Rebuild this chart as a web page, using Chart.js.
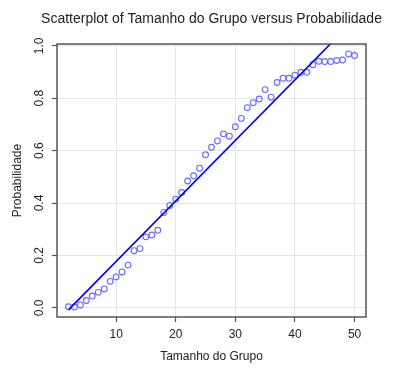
<!DOCTYPE html>
<html>
<head>
<meta charset="utf-8">
<script src="https://cdn.jsdelivr.net/npm/chart.js@4"></script>
<style>
html,body{margin:0;padding:0;background:#fff;}
#wrap{width:399px;height:375px;}
</style>
</head>
<body>
<div id="wrap"><canvas id="c" width="399" height="375"></canvas></div>
<script>
// ---- data ----
const groupSize = [2,3,4,5,6,7,8,9,10,11,12,13,14,15,16,17,18,19,20,21,22,23,24,25,26,27,28,29,30,31,32,33,34,35,36,37,38,39,40,41,42,43,44,45,46,47,48,49,50];
const probability = [0.004,0.003,0.011,0.028,0.045,0.059,0.072,0.101,0.118,0.137,0.163,0.218,0.226,0.271,0.278,0.296,0.364,0.391,0.415,0.440,0.484,0.504,0.533,0.584,0.613,0.637,0.664,0.655,0.691,0.723,0.764,0.783,0.797,0.833,0.804,0.860,0.876,0.876,0.888,0.899,0.899,0.928,0.941,0.940,0.940,0.944,0.946,0.969,0.963];
const fitLineX = [2, 50];
const fitLineY = [-0.008, 1.101];
const xTickValues = [10,20,30,40,50];
const yTickValues = [0,0.2,0.4,0.6,0.8,1.0];
const yTickLabels = ['0.0','0.2','0.4','0.6','0.8','1.0'];
const titleText = 'Scatterplot of Tamanho do Grupo versus Probabilidade';
const xTitleText = 'Tamanho do Grupo';
const yTitleText = 'Probabilidade';

const FONT = '"Liberation Sans", Arial, sans-serif';
const TEXT = '#222';

const points = groupSize.map((g,i)=>({x:g,y:probability[i]}));
const linePts = fitLineX.map((x,i)=>({x:x,y:fitLineY[i]}));

const textPlugin = {
  id:'textPlugin',
  afterDatasetsDraw(chart){
    const ctx = chart.ctx, a = chart.chartArea;
    const xs = chart.scales.x, ys = chart.scales.y;
    ctx.save();
    // box
    ctx.strokeStyle = '#555';
    ctx.lineWidth = 1.5;
    ctx.strokeRect(a.left, a.top, a.right-a.left, a.bottom-a.top);
    ctx.fillStyle = TEXT;
    // title
    ctx.font = '14px ' + FONT;
    ctx.textAlign = 'center';
    ctx.textBaseline = 'middle';
    ctx.fillText(titleText, (a.left+a.right)/2, 19);
    // x tick labels
    ctx.font = '12px ' + FONT;
    xTickValues.forEach(v=>{
      ctx.fillText(String(v), xs.getPixelForValue(v), 334.5);
    });
    // x title
    ctx.fillText(xTitleText, (a.left+a.right)/2, 356.5);
    // y tick labels (rotated)
    yTickValues.forEach((v,i)=>{
      ctx.save();
      ctx.translate(39.5, ys.getPixelForValue(v));
      ctx.rotate(-Math.PI/2);
      ctx.fillText(yTickLabels[i], 0, 0);
      ctx.restore();
    });
    // y title
    ctx.save();
    ctx.translate(17.5, (a.top+a.bottom)/2);
    ctx.rotate(-Math.PI/2);
    ctx.fillText(yTitleText, 0, 0);
    ctx.restore();
    ctx.restore();
  }
};

new Chart(document.getElementById('c'), {
  type:'scatter',
  data:{
    datasets:[
      {
        type:'scatter',
        data:points,
        pointStyle:'circle',
        pointRadius:2.9,
        pointHoverRadius:2.9,
        pointBorderWidth:1.1,
        borderColor:'#6a6aff',
        backgroundColor:'rgba(0,0,0,0)',
        order:2
      },
      {
        type:'line',
        data:linePts,
        borderColor:'#0000ff',
        borderWidth:1.6,
        pointRadius:0,
        fill:false,
        tension:0,
        order:1
      }
    ]
  },
  options:{
    responsive:false,
    animation:false,
    events:[],
    layout:{padding:{top:44,right:33,left:0,bottom:0}},
    plugins:{legend:{display:false},tooltip:{enabled:false},title:{display:false}},
    scales:{
      x:{
        type:'linear',
        min:0.08, max:51.92,
        afterBuildTicks(s){ s.ticks = xTickValues.map(v=>({value:v})); },
        afterFit(s){ s.height = 58; },
        ticks:{display:false},
        border:{display:false},
        grid:{color:'#e4e4e4', lineWidth:1, drawTicks:true, tickLength:5, tickColor:'#555', tickWidth:1.2}
      },
      y:{
        type:'linear',
        min:-0.035, max:1.007,
        afterBuildTicks(s){ s.ticks = yTickValues.map(v=>({value:v})); },
        afterFit(s){ s.width = 57; },
        ticks:{display:false},
        border:{display:false},
        grid:{color:'#e4e4e4', lineWidth:1, drawTicks:true, tickLength:5, tickColor:'#555', tickWidth:1.2}
      }
    }
  },
  plugins:[textPlugin]
});
</script>
</body>
</html>
